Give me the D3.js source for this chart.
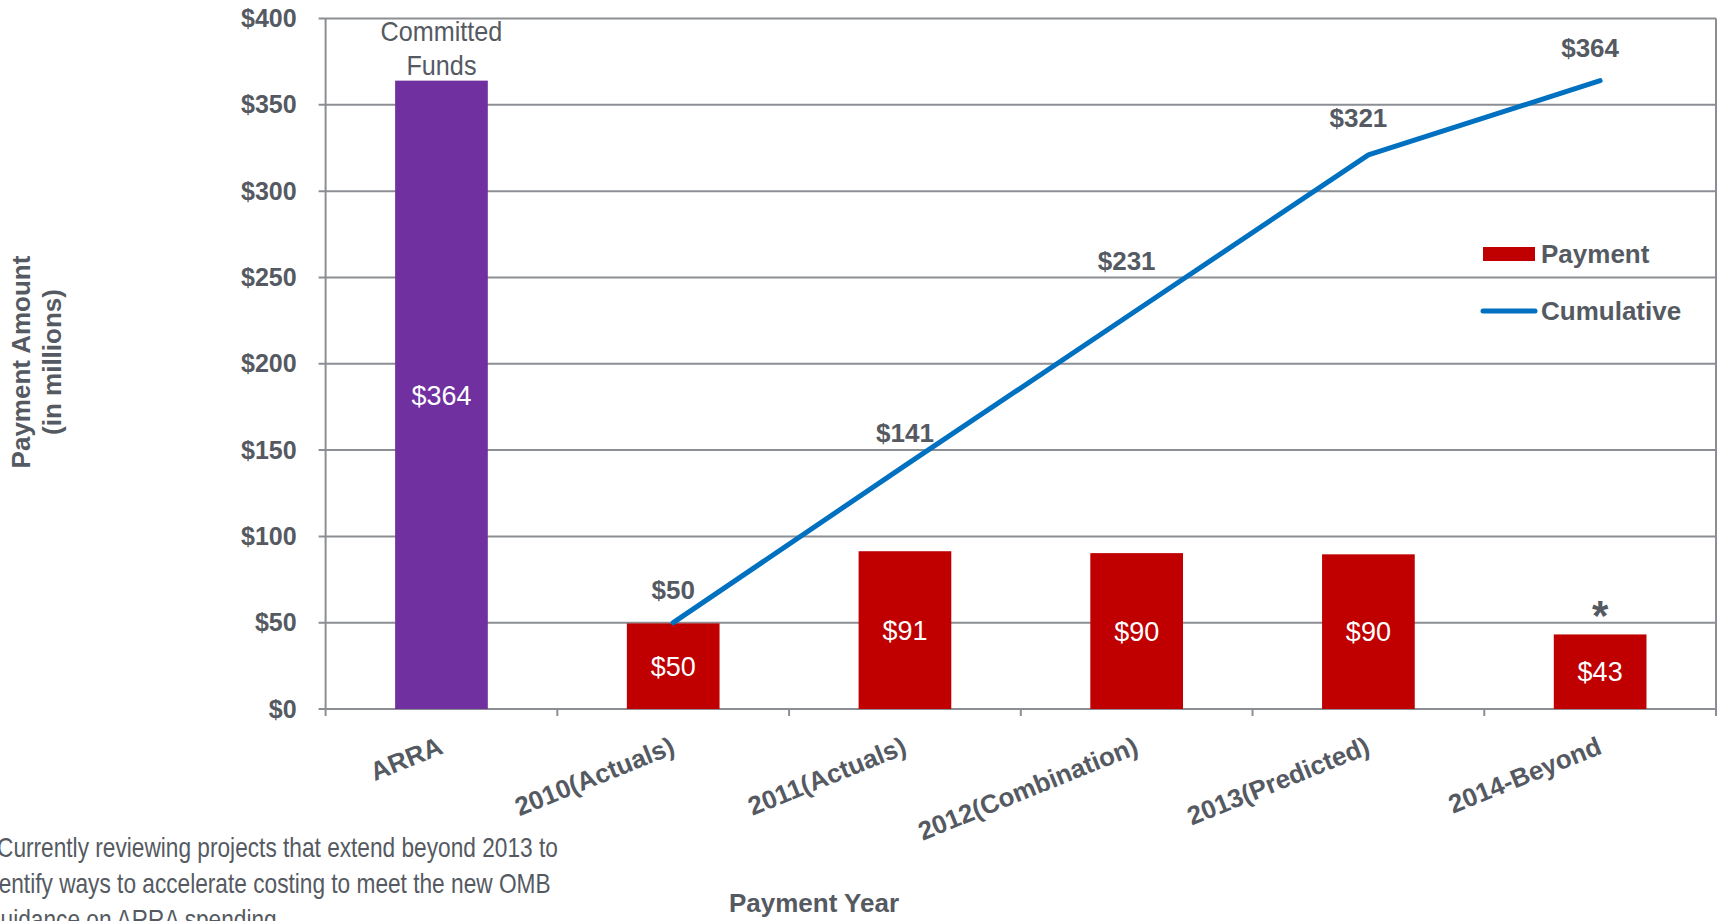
<!DOCTYPE html>
<html>
<head>
<meta charset="utf-8">
<script src="https://cdn.jsdelivr.net/npm/d3@7"></script>
<style>
body { margin: 0; background: #fff; overflow: hidden; }
text { font-family: "Liberation Sans", Arial, sans-serif; fill: #555a62; }
</style>
</head>
<body>
<div id="chart"></div>
<script>
// chart data
const categories = ["ARRA", "2010(Actuals)", "2011(Actuals)", "2012(Combination)", "2013(Predicted)", "2014-Beyond"];
const barValues = [364, 49.6, 91.4, 90.3, 89.6, 43.2];
const barLabels = ["$364", "$50", "$91", "$90", "$90", "$43"];
const cumCategories = ["2010(Actuals)", "2011(Actuals)", "2012(Combination)", "2013(Predicted)", "2014-Beyond"];
const cumulative = [50, 141, 231, 321, 364];
const cumLabels = ["$50", "$141", "$231", "$321", "$364"];
const barNotes = ["", "", "", "", "", "*"];
const yTicks = [0, 50, 100, 150, 200, 250, 300, 350, 400];
const footnote = ["Currently reviewing projects that extend beyond 2013 to",
                  "identify ways to accelerate costing to meet the new OMB",
                  "guidance on ARRA spending"];

const width = 1719, height = 921;
const plot = {left: 325.6, right: 1716, top: 18.5, bottom: 709};
const textColor = "#555a62", gridColor = "#8b8e92";

const svg = d3.select("#chart").append("svg")
	.attr("width", width)
	.attr("height", height);

const x = d3.scaleBand()
	.domain(categories)
	.range([plot.left, plot.right])
	.paddingInner(0.6)
	.paddingOuter(0.3);

const y = d3.scaleLinear()
	.domain([0, 400])
	.range([plot.bottom, plot.top]);

// gridlines, extending a little left of the axis like tick marks
svg.append("g").selectAll("line.grid")
	.data(yTicks)
	.enter().append("line")
	.attr("class", "grid")
	.attr("x1", plot.left - 7)
	.attr("x2", plot.right)
	.attr("y1", d => y(d))
	.attr("y2", d => y(d))
	.attr("stroke", gridColor)
	.attr("stroke-width", 2);

// left axis: labels only, lines drawn separately
const yAxis = d3.axisLeft(y)
	.tickValues(yTicks)
	.tickSize(0)
	.tickPadding(29)
	.tickFormat(d => "$" + d);

svg.append("g")
	.attr("class", "y axis")
	.attr("transform", `translate(${plot.left}, 0)`)
	.call(yAxis)
	.call(g => g.select(".domain").remove())
	.selectAll("text")
	.style("font-size", "25px")
	.style("font-weight", "bold")
	.attr("fill", textColor);

// frame: left and right edges
svg.append("line")
	.attr("x1", plot.left).attr("x2", plot.left)
	.attr("y1", plot.top).attr("y2", plot.bottom)
	.attr("stroke", gridColor).attr("stroke-width", 2);
svg.append("line")
	.attr("x1", plot.right).attr("x2", plot.right)
	.attr("y1", plot.top).attr("y2", plot.bottom + 7)
	.attr("stroke", gridColor).attr("stroke-width", 2);

// category boundary ticks below the axis
svg.append("g").selectAll("line.xtick")
	.data(d3.range(categories.length + 1))
	.enter().append("line")
	.attr("class", "xtick")
	.attr("x1", i => plot.left + i * x.step())
	.attr("x2", i => plot.left + i * x.step())
	.attr("y1", plot.bottom)
	.attr("y2", plot.bottom + 7)
	.attr("stroke", gridColor)
	.attr("stroke-width", 2);

// bars
svg.append("g").selectAll("rect")
	.data(categories)
	.enter().append("rect")
	.attr("x", d => x(d))
	.attr("width", x.bandwidth())
	.attr("y", (d, i) => y(barValues[i]))
	.attr("height", (d, i) => y(0) - y(barValues[i]))
	.attr("fill", (d, i) => i === 0 ? "#7030a0" : "#c00000");

// value labels inside the bars
svg.append("g").selectAll("text")
	.data(categories)
	.enter().append("text")
	.attr("x", d => x(d) + x.bandwidth() / 2)
	.attr("y", (d, i) => (y(barValues[i]) + y(0)) / 2)
	.attr("dy", "0.36em")
	.attr("text-anchor", "middle")
	.style("font-size", "27px")
	.style("fill", "#fff")
	.text((d, i) => barLabels[i]);

// notes above bars
svg.append("g").selectAll("text")
	.data(categories)
	.enter().append("text")
	.attr("x", d => x(d) + x.bandwidth() / 2)
	.attr("y", (d, i) => y(barValues[i]) - 4)
	.attr("text-anchor", "middle")
	.style("font-size", "42px")
	.style("font-weight", "bold")
	.text((d, i) => barNotes[i]);

// "Committed Funds" above the ARRA bar
const armX = x(categories[0]) + x.bandwidth() / 2;
svg.append("text")
	.attr("transform", `translate(${armX}, 41) scale(0.9, 1)`)
	.attr("text-anchor", "middle")
	.style("font-size", "28px")
	.selectAll("tspan")
	.data(["Committed", "Funds"])
	.enter().append("tspan")
	.attr("x", 0)
	.attr("dy", (d, i) => i === 0 ? 0 : 34)
	.text(d => d);

// cumulative line
const line = d3.line()
	.x((d, i) => x(cumCategories[i]) + x.bandwidth() / 2)
	.y(d => y(d));

svg.append("path")
	.datum(cumulative)
	.attr("d", line)
	.attr("fill", "none")
	.attr("stroke", "#0070c0")
	.attr("stroke-width", 5)
	.attr("stroke-linecap", "round")
	.attr("stroke-linejoin", "round");

// cumulative labels sit above their points; the later ones are nudged left/up off the line
const cumShift = [[0, 0], [0, 0], [-10, -16], [-10, -4], [-10, 0]];
svg.append("g").selectAll("text")
	.data(cumulative)
	.enter().append("text")
	.attr("x", (d, i) => x(cumCategories[i]) + x.bandwidth() / 2 + cumShift[i][0])
	.attr("y", (d, i) => y(d) - 24 + cumShift[i][1])
	.attr("text-anchor", "middle")
	.style("font-size", "26px")
	.style("font-weight", "bold")
	.text((d, i) => cumLabels[i]);

// category labels, rotated
svg.append("g").selectAll("text")
	.data(categories)
	.enter().append("text")
	.attr("transform", d => `translate(${x(d) + x.bandwidth() / 2 + 3}, ${plot.bottom + 44}) rotate(-22)`)
	.attr("text-anchor", "end")
	.style("font-size", "26px")
	.style("font-weight", "bold")
	.text(d => d);

// legend
const legend = svg.append("g").attr("transform", "translate(1483, 0)");
legend.append("rect")
	.attr("x", 0).attr("y", 247)
	.attr("width", 52).attr("height", 14)
	.attr("fill", "#c00000");
legend.append("text")
	.attr("x", 58).attr("y", 263)
	.style("font-size", "26px").style("font-weight", "bold")
	.text("Payment");
legend.append("line")
	.attr("x1", 0).attr("x2", 52)
	.attr("y1", 311).attr("y2", 311)
	.attr("stroke", "#0070c0").attr("stroke-width", 5)
	.attr("stroke-linecap", "round");
legend.append("text")
	.attr("x", 58).attr("y", 320)
	.style("font-size", "26px").style("font-weight", "bold")
	.text("Cumulative");

// axis titles
svg.append("text")
	.attr("transform", "translate(30, 362) rotate(-90)")
	.attr("text-anchor", "middle")
	.style("font-size", "26px").style("font-weight", "bold")
	.selectAll("tspan")
	.data(["Payment Amount", "(in millions)"])
	.enter().append("tspan")
	.attr("x", 0)
	.attr("dy", (d, i) => i === 0 ? 0 : 31)
	.text(d => d);

svg.append("text")
	.attr("x", 814)
	.attr("y", 912)
	.attr("text-anchor", "middle")
	.style("font-size", "26px").style("font-weight", "bold")
	.text("Payment Year");

// footnote in a narrow face, partly cut off at the left and bottom edge
const footX = [-3, -19, -12];
svg.append("g")
	.attr("transform", "scale(0.81, 1)")
	.selectAll("text")
	.data(footnote)
	.enter().append("text")
	.attr("x", (d, i) => footX[i] / 0.81)
	.attr("y", (d, i) => 857 + i * 36)
	.style("font-size", "28px")
	.text(d => d);
</script>
</body>
</html>
